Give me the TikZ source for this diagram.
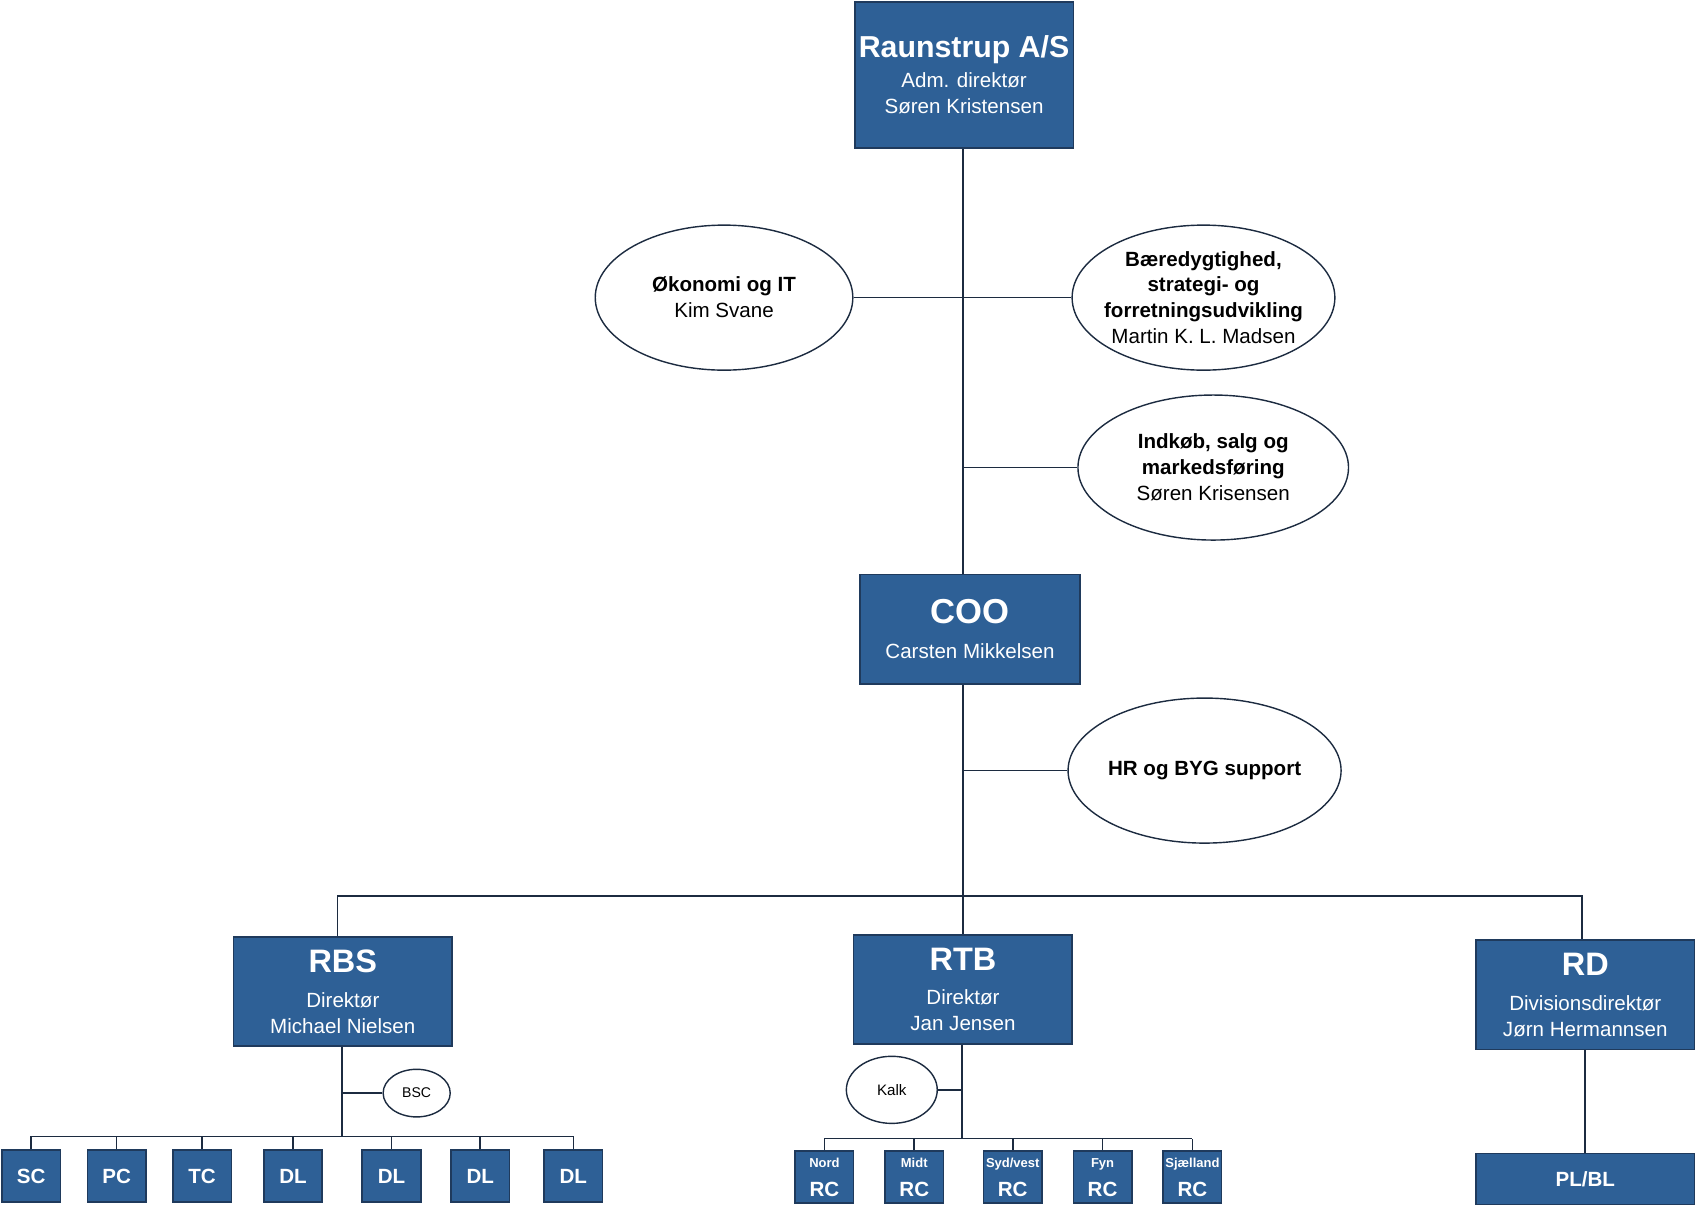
\documentclass[tikz,border=0pt]{standalone}
\usepackage{fontspec}
\setmainfont{Liberation Sans}
\usetikzlibrary{shapes.geometric}
\definecolor{bx}{HTML}{2E6096}
\definecolor{bd}{HTML}{1F3A5C}
\definecolor{ln}{HTML}{1C2B40}
\tikzset{
 box/.style={draw=bd,line width=1.5pt,fill=bx,text=white,align=center,inner sep=0pt,anchor=north west,font=\fontsize{19}{24}\selectfont},
 ell/.style={draw=ln,line width=1.3pt,ellipse,fill=white,align=center,inner sep=0pt,font=\fontsize{19}{24}\selectfont},
 con/.style={draw=ln,line width=1.5pt},
 small/.style={box,font=\fontsize{19}{22}\selectfont\bfseries}
}
\begin{document}
\begin{tikzpicture}[x=1pt,y=-1pt]
\useasboundingbox (0,0) rectangle (1568,1114);
% boxes
\node[box,minimum width=202pt,minimum height=135pt] (top) at (789,1) {{\fontsize{28}{32}\selectfont\bfseries Raunstrup A/S}\\[4pt]Adm. direktør\\Søren Kristensen};
\node[box,minimum width=203pt,minimum height=101pt] (coo) at (794,530) {{\fontsize{32}{36}\selectfont\bfseries COO}\\[8pt]Carsten Mikkelsen};
\node[box,minimum width=202pt,minimum height=101pt] (rbs) at (215,865) {{\fontsize{30}{34}\selectfont\bfseries RBS}\\[8pt]Direktør\\Michael Nielsen};
\node[box,minimum width=202pt,minimum height=101pt] (rtb) at (788,863) {{\fontsize{30}{34}\selectfont\bfseries RTB}\\[8pt]Direktør\\Jan Jensen};
\node[box,minimum width=202pt,minimum height=101pt] (rd) at (1363,868) {{\fontsize{30}{34}\selectfont\bfseries RD}\\[8pt]Divisionsdirektør\\Jørn Hermannsen};
\node[small,minimum width=202pt,minimum height=47pt] (pl) at (1363,1065) {PL/BL};
% ellipses
\node[ell,minimum width=238pt,minimum height=134pt] (oko) at (669,275) {\textbf{Økonomi og IT}\\Kim Svane};
\node[ell,minimum width=242pt,minimum height=134pt,inner sep=-6pt] (bae) at (1112,275) {\textbf{Bæredygtighed,}\\\textbf{strategi- og}\\\textbf{forretningsudvikling}\\Martin K. L. Madsen};
\node[ell,minimum width=250pt,minimum height=134pt] (ind) at (1121,432) {\textbf{Indkøb, salg og}\\\textbf{markedsføring}\\Søren Krisensen};
\node[ell,minimum width=236pt,minimum height=134pt] (hr) at (1113,712) {\textbf{HR og BYG support}};
\node[ell,minimum width=62pt,minimum height=44pt,font=\fontsize{13}{15}\selectfont] (bsc) at (385,1010) {BSC};
\node[ell,minimum width=84pt,minimum height=62pt,font=\fontsize{14}{16}\selectfont] (kalk) at (824,1007) {Kalk};
% coordinates
\coordinate (j1) at (890,276);
\coordinate (j2) at (890,432);
\coordinate (j3) at (890,712);
\coordinate (bus) at (890,828);
\coordinate (bl) at (312,828);
\coordinate (br) at (1462,828);
\coordinate (rbsj) at (316,1010);
\coordinate (rtbj) at (889,1007);
\coordinate (rbsb) at (316,1050);
\coordinate (rtbb) at (889,1052);
\draw[con] (top.south -| j1) -- (coo.north -| j1);
\draw[con] (oko.east) -- (bae.west);
\draw[con] (j2) -- (ind.west);
\draw[con] (coo.south -| j1) -- (bus);
\draw[con] (j3) -- (hr.west);
\draw[con] (rbs.north -| bl) -- (bl) -- (br) -- (rd.north -| br);
\draw[con] (bus) -- (rtb.north -| bus);
\draw[con] (rbs.south -| rbsj) -- (rbsb);
\draw[con] (rbsj) -- (bsc.west);
\draw[con] (rtb.south -| rtbj) -- (rtbb);
\draw[con] (rtbj) -- (kalk.east);
\draw[con] (rd.south) -- (pl.north);
% RBS children
\foreach \n/\x/\t in {sc/1/SC,pc/80/PC,tc/159/TC,dla/243/DL,dlb/334/DL,dlc/416/DL,dld/502/DL}{
 \node[small,minimum width=54pt,minimum height=48pt] (\n) at (\x,1062) {\t};
 \draw[con] (\n.north) -- (\n.north |- rbsb);
}
\draw[con] (sc.north |- rbsb) -- (dld.north |- rbsb);
% RTB children
\foreach \n/\x/\t in {no/734/Nord,mi/817/Midt,sy/908/{Syd/vest},fy/991/Fyn,sj/1074/Sjælland}{
 \node[box,minimum width=54pt,minimum height=48pt] (\n) at (\x,1063) {{\fontsize{12}{14}\selectfont\bfseries \t}\\[3pt]{\fontsize{19}{22}\selectfont\bfseries RC}};
 \draw[con] (\n.north) -- (\n.north |- rtbb);
}
\draw[con] (no.north |- rtbb) -- (sj.north |- rtbb);
\end{tikzpicture}
\end{document}
